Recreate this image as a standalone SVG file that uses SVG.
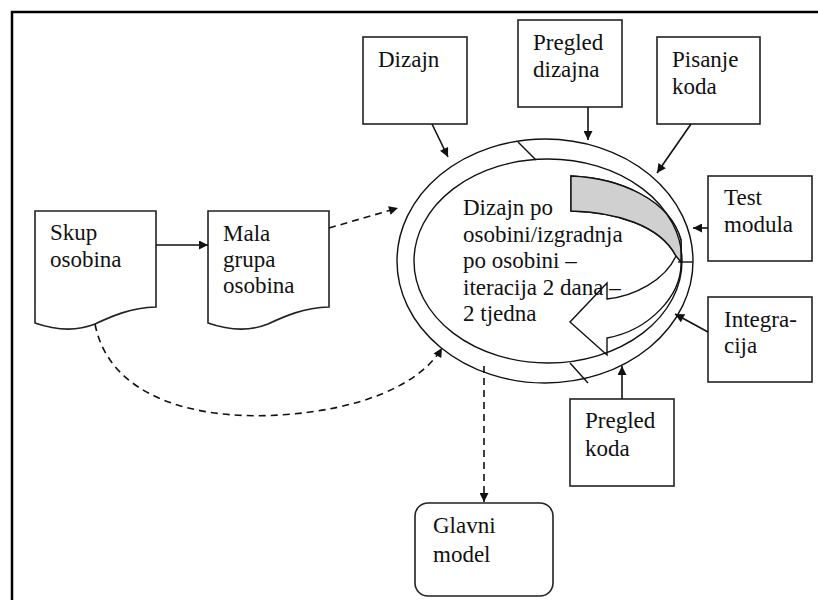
<svg xmlns="http://www.w3.org/2000/svg" width="818" height="600" viewBox="0 0 818 600">
<style>
.box{fill:#fff;stroke:#222;stroke-width:1.6}
.t{font-family:"Liberation Serif","Times New Roman",serif;font-size:23px;fill:#111}
.c{fill:none;stroke:#111;stroke-width:1.6}
.d{fill:none;stroke:#111;stroke-width:1.6;stroke-dasharray:7 5}
.e{fill:none;stroke:#111;stroke-width:1.4}
</style>
<defs>
<marker id="ah" viewBox="0 0 10 10" refX="10" refY="5" markerWidth="10" markerHeight="9" markerUnits="userSpaceOnUse" orient="auto">
<path d="M0,0 L10,5 L0,10 Z" fill="#111"/>
</marker>
</defs>
<rect x="0" y="0" width="818" height="600" fill="#fff"/>
<rect x="12" y="12" width="830" height="620" fill="none" stroke="#000" stroke-width="2.5"/>

<g id="cycle">
<path d="M571,176 C620,178 670,200 681,240 L681,262 C682,295 650,330 607,338 L607,355 L570,322 L607,283 L607,299 C635,296 665,280 676,256 C660,225 615,212 571,211 Z" fill="#fff" stroke="#111" stroke-width="1.4"/>
<path d="M571,176 C620,178 670,200 681,240 L681,262 L676,256 C660,225 615,212 571,211 Z" fill="#d0d0d0" stroke="#111" stroke-width="1.4"/>
<ellipse class="e" cx="545" cy="261" rx="148" ry="122"/>
<ellipse class="e" cx="548" cy="261" rx="134" ry="102"/>
<line class="e" x1="518" y1="142" x2="536" y2="160"/>
<line class="e" x1="678" y1="262" x2="693" y2="262"/>
<line class="e" x1="570" y1="363" x2="588" y2="383"/>
<text class="t" x="463" y="215">Dizajn po</text>
<text class="t" x="463" y="242">osobini/izgradnja</text>
<text class="t" x="463" y="268">po osobini –</text>
<text class="t" x="463" y="295">iteracija 2 dana –</text>
<text class="t" x="463" y="321">2 tjedna</text>
</g>

<g id="skup">
<path class="box" d="M35,211 L156,211 L156,307 C130,308 112,316 95,324 C75,332 55,330 35,323 Z"/>
<text class="t" x="50" y="240">Skup</text>
<text class="t" x="50" y="267">osobina</text>
</g>
<g id="mala">
<path class="box" d="M208,211 L329,211 L329,307 C303,308 285,316 268,324 C248,332 228,330 208,323 Z"/>
<text class="t" x="223" y="241">Mala</text>
<text class="t" x="223" y="267">grupa</text>
<text class="t" x="223" y="293">osobina</text>
</g>
<g id="dizajn">
<rect class="box" x="363" y="37" width="104" height="87"/>
<text class="t" x="378" y="67">Dizajn</text>
</g>
<g id="pregled-dizajna">
<rect class="box" x="518" y="20" width="104" height="87"/>
<text class="t" x="533" y="50">Pregled</text>
<text class="t" x="533" y="77">dizajna</text>
</g>
<g id="pisanje-koda">
<rect class="box" x="657" y="37" width="103" height="87"/>
<text class="t" x="672" y="67">Pisanje</text>
<text class="t" x="672" y="94">koda</text>
</g>
<g id="test-modula">
<rect class="box" x="708" y="176" width="104" height="85"/>
<text class="t" x="724" y="205">Test</text>
<text class="t" x="724" y="232">modula</text>
</g>
<g id="integracija">
<rect class="box" x="708" y="297" width="104" height="85"/>
<text class="t" x="724" y="327">Integra-</text>
<text class="t" x="724" y="353">cija</text>
</g>
<g id="pregled-koda">
<rect class="box" x="570" y="399" width="104" height="87"/>
<text class="t" x="585" y="428">Pregled</text>
<text class="t" x="585" y="456">koda</text>
</g>
<g id="glavni-model">
<rect class="box" x="415" y="503" width="138" height="93" rx="13"/>
<text class="t" x="433" y="533">Glavni</text>
<text class="t" x="433" y="562">model</text>
</g>

<g id="connectors">
<line class="c" x1="156" y1="245" x2="208" y2="245" marker-end="url(#ah)"/>
<line class="d" x1="329" y1="228" x2="398" y2="208" marker-end="url(#ah)"/>
<path class="d" d="M95,324 C110,400 200,420 280,415 C360,410 420,385 442,348" marker-end="url(#ah)"/>
<line class="c" x1="432" y1="124" x2="448" y2="157" marker-end="url(#ah)"/>
<line class="c" x1="588" y1="107" x2="588" y2="140" marker-end="url(#ah)"/>
<line class="c" x1="691" y1="124" x2="657" y2="173" marker-end="url(#ah)"/>
<line class="c" x1="708" y1="228" x2="693" y2="228" marker-end="url(#ah)"/>
<line class="c" x1="708" y1="332" x2="675" y2="314" marker-end="url(#ah)"/>
<line class="c" x1="622" y1="399" x2="622" y2="366" marker-end="url(#ah)"/>
<line class="d" x1="484" y1="366" x2="484" y2="502" marker-end="url(#ah)"/>
</g>
</svg>
